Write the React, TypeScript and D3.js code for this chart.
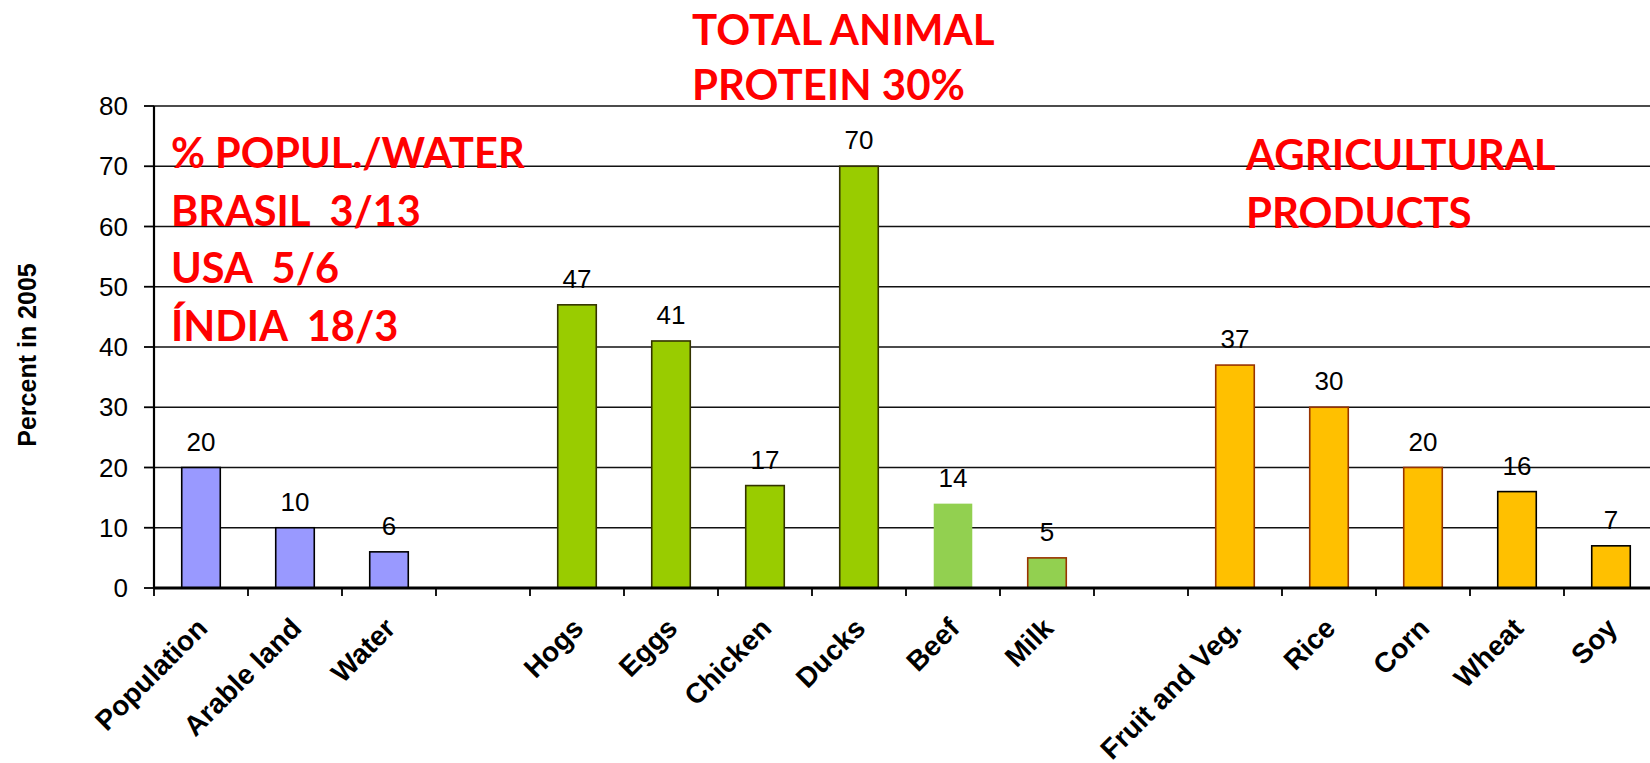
import * as d3 from "d3"

// chart data
const categories = [
  "Population", "Arable land", "Water", "",
  "Hogs", "Eggs", "Chicken", "Ducks", "Beef", "Milk", "",
  "Fruit and Veg.", "Rice", "Corn", "Wheat", "Soy",
]
const values: (number | null)[] = [20, 10, 6, null, 47, 41, 17, 70, 14, 5, null, 37, 30, 20, 16, 7]
const yTicks = [0, 10, 20, 30, 40, 50, 60, 70, 80]
const yLabel = "Percent in 2005"
const noteLeft = ["% POPUL./WATER", "BRASIL  3/13", "USA  5/6", "ÍNDIA  18/3"]
const noteTop = ["TOTAL ANIMAL", "PROTEIN 30%"]
const noteRight = ["AGRICULTURAL", "PRODUCTS"]

// bar styles, keyed by category
const barStyle: Record<string, { fill: string; stroke: string }> = {
  Population: { fill: "#9999FF", stroke: "#000" },
  "Arable land": { fill: "#9999FF", stroke: "#000" },
  Water: { fill: "#9999FF", stroke: "#000" },
  Hogs: { fill: "#99CC00", stroke: "#333300" },
  Eggs: { fill: "#99CC00", stroke: "#333300" },
  Chicken: { fill: "#99CC00", stroke: "#333300" },
  Ducks: { fill: "#99CC00", stroke: "#333300" },
  Beef: { fill: "#92D050", stroke: "none" },
  Milk: { fill: "#92D050", stroke: "#993300" },
  "Fruit and Veg.": { fill: "#FFC000", stroke: "#993300" },
  Rice: { fill: "#FFC000", stroke: "#993300" },
  Corn: { fill: "#FFC000", stroke: "#993300" },
  Wheat: { fill: "#FFC000", stroke: "#000" },
  Soy: { fill: "#FFC000", stroke: "#000" },
}

const W = 1650
const H = 763
const left = 154
const right = 1658
const top = 106
const bottom = 588

const sans = "'Liberation Sans', Arial, sans-serif"
const red = "Lato, 'Noto Sans', sans-serif"

export default function App() {
  const idx = d3.range(categories.length)
  const x = d3.scaleBand<number>().domain(idx).range([left, right]).padding(0)
  const y = d3.scaleLinear().domain([0, 80]).range([bottom, top])
  const bw = x.bandwidth() * 0.41
  const cx = (i: number) => (x(i) ?? 0) + x.bandwidth() / 2

  return (
    <div style={{ position: "fixed", left: 0, top: 0, width: W, height: H, background: "#fff" }}>
      <svg width={W} height={H} style={{ display: "block" }}>
        {/* grid */}
        {yTicks.filter((t) => t > 0).map((t) => (
          <line key={t} x1={left} x2={right} y1={y(t)} y2={y(t)} stroke="#111" strokeWidth={1.6} />
        ))}

        {/* bars */}
        {idx.map((i) => {
          const v = values[i]
          if (v == null) return null
          const s = barStyle[categories[i]]
          return (
            <g key={i}>
              <rect
                x={cx(i) - bw / 2}
                y={y(v)}
                width={bw}
                height={y(0) - y(v)}
                fill={s.fill}
                stroke={s.stroke}
                strokeWidth={1.6}
              />
              <text
                x={cx(i)}
                y={y(v) - 17}
                textAnchor="middle"
                fontFamily={sans}
                fontSize={26}
                fill="#000"
              >
                {v}
              </text>
            </g>
          )
        })}

        {/* y axis */}
        <line x1={left} x2={left} y1={top} y2={bottom} stroke="#000" strokeWidth={2.2} />
        {yTicks.map((t) => (
          <g key={t}>
            <line x1={left - 10} x2={left} y1={y(t)} y2={y(t)} stroke="#000" strokeWidth={1.8} />
            <text
              x={128}
              y={y(t) + 9}
              textAnchor="end"
              fontFamily={sans}
              fontSize={26}
              fill="#000"
            >
              {t}
            </text>
          </g>
        ))}
        <text
          transform={`translate(36,355) rotate(-90)`}
          textAnchor="middle"
          fontFamily={sans}
          fontWeight="bold"
          fontSize={25}
          fill="#000"
        >
          {yLabel}
        </text>

        {/* x axis */}
        <line x1={left} x2={right} y1={bottom} y2={bottom} stroke="#000" strokeWidth={2.8} />
        {d3.range(categories.length + 1).map((k) => {
          const xx = left + k * x.bandwidth()
          return <line key={k} x1={xx} x2={xx} y1={bottom} y2={bottom + 8} stroke="#000" strokeWidth={1.8} />
        })}
        {idx.map((i) =>
          categories[i] ? (
            <text
              key={i}
              transform={`translate(${cx(i) + 8},630) rotate(-45)`}
              textAnchor="end"
              fontFamily={sans}
              fontWeight="bold"
              fontSize={28}
              fill="#000"
            >
              {categories[i]}
            </text>
          ) : null,
        )}

        {/* red notes */}
        <text fontFamily={red} fontWeight="bold" fontSize={41.5} fill="#FF0000">
          {noteLeft.map((s, i) => (
            <tspan key={i} x={171} y={168 + i * 57.5} style={{ whiteSpace: "pre" }}>
              {s}
            </tspan>
          ))}
        </text>
        <text fontFamily={red} fontWeight="bold" fontSize={42} fill="#FF0000">
          {noteTop.map((s, i) => (
            <tspan key={i} x={692} y={45 + i * 55} style={{ whiteSpace: "pre" }}>
              {s}
            </tspan>
          ))}
        </text>
        <text fontFamily={red} fontWeight="bold" fontSize={42} fill="#FF0000">
          {noteRight.map((s, i) => (
            <tspan key={i} x={1246} y={170 + i * 58} style={{ whiteSpace: "pre" }}>
              {s}
            </tspan>
          ))}
        </text>
      </svg>
    </div>
  )
}
